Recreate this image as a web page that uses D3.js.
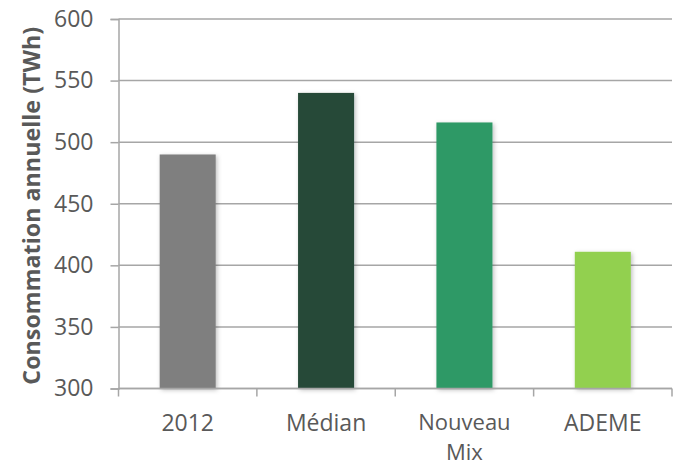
<!DOCTYPE html>
<html>
<head>
<meta charset="utf-8">
<script src="https://cdn.jsdelivr.net/npm/d3@7"></script>
<style>
  html, body { margin: 0; padding: 0; background: #fff; }
  svg { display: block; }
  text { font-family: "Open Sans", Lato, sans-serif; fill: #595959; }
</style>
</head>
<body>
<svg id="chart" width="673" height="466"></svg>
<script>
// Annual electricity consumption by scenario (TWh)
const categories = ["2012", "Médian", "Nouveau Mix", "ADEME"];
const values = [490, 540, 516, 411];
const colors = ["#7f7f7f", "#264a39", "#2e9966", "#92d050"];
const yTicks = [300, 350, 400, 450, 500, 550, 600];
const yTitle = "Consommation annuelle (TWh)";

const svg = d3.select("#chart");
const margin = { top: 19, right: 1, bottom: 77.5, left: 118.5 };
const width = 673 - margin.left - margin.right;
const height = 466 - margin.top - margin.bottom;

const defs = svg.append("defs");
const shadow = defs.append("filter").attr("id", "barShadow")
  .attr("x", "-20%").attr("y", "-10%").attr("width", "140%").attr("height", "120%");
shadow.append("feDropShadow")
  .attr("dx", 1.5).attr("dy", 1.5).attr("stdDeviation", 2)
  .attr("flood-color", "#000").attr("flood-opacity", 0.25);

const g = svg.append("g").attr("transform", `translate(${margin.left},${margin.top})`);

const x = d3.scaleBand().domain(categories).range([0, width]).paddingInner(0.595).paddingOuter(0.2975);
const y = d3.scaleLinear().domain([300, 600]).range([height, 0]);

// horizontal gridlines
g.append("g").selectAll("line").data(yTicks).join("line")
  .attr("x1", 0).attr("x2", width)
  .attr("y1", d => y(d)).attr("y2", d => y(d))
  .attr("stroke", "#a6a6a6").attr("stroke-width", 1.5);

// bars
g.append("g").selectAll("rect").data(values).join("rect")
  .attr("x", (d, i) => x(categories[i]))
  .attr("y", d => y(d))
  .attr("width", x.bandwidth())
  .attr("height", d => y(300) - y(d))
  .attr("fill", (d, i) => colors[i])
  .attr("filter", "url(#barShadow)");

// y axis
const yAxis = g.append("g")
  .call(d3.axisLeft(y).tickValues(yTicks).tickSize(8).tickPadding(17).tickFormat(d3.format("d")));
yAxis.select(".domain").attr("stroke", "#a6a6a6").attr("stroke-width", 1.5);
yAxis.selectAll(".tick line").attr("stroke", "#a6a6a6").attr("stroke-width", 1.5);
yAxis.selectAll(".tick text").attr("font-size", 23).attr("fill", "#595959")
  .attr("font-family", "'Open Sans', Lato, sans-serif");

// x axis with boundary ticks between categories
const xAxisG = g.append("g").attr("transform", `translate(0,${height})`);
xAxisG.append("line").attr("x1", 0).attr("x2", width).attr("y1", 0).attr("y2", 0)
  .attr("stroke", "#a6a6a6").attr("stroke-width", 1.5);
xAxisG.selectAll("line.bound").data(d3.range(categories.length + 1)).join("line")
  .attr("class", "bound")
  .attr("x1", i => i * x.step()).attr("x2", i => i * x.step())
  .attr("y1", 0).attr("y2", 8)
  .attr("stroke", "#a6a6a6").attr("stroke-width", 1.5);

// category labels; the long one wraps onto two lines
const labelLines = d => d === "Nouveau Mix" ? ["Nouveau", "Mix"] : [d];
xAxisG.selectAll("text.cat").data(categories).join("text")
  .attr("class", "cat")
  .attr("text-anchor", "middle")
  .attr("font-size", d => labelLines(d).length > 1 ? 22 : 23)
  .attr("transform", d => `translate(${x(d) + x.bandwidth() / 2},${labelLines(d).length > 1 ? 41 : 42.5})`)
  .each(function (d) {
    const t = d3.select(this);
    labelLines(d).forEach((line, k) => {
      t.append("tspan").attr("x", 0).attr("y", k * 30.2).text(line);
    });
  });

// y axis title, sized to span the plot height
const title = svg.append("text")
  .attr("transform", `translate(40,${margin.top + height / 2 + 2}) rotate(-90)`)
  .attr("text-anchor", "middle")
  .attr("font-size", 22)
  .attr("font-weight", "bold")
  .text(yTitle);
const len = title.node().getComputedTextLength();
title.attr("font-size", 22 * 358 / len);
</script>
</body>
</html>
